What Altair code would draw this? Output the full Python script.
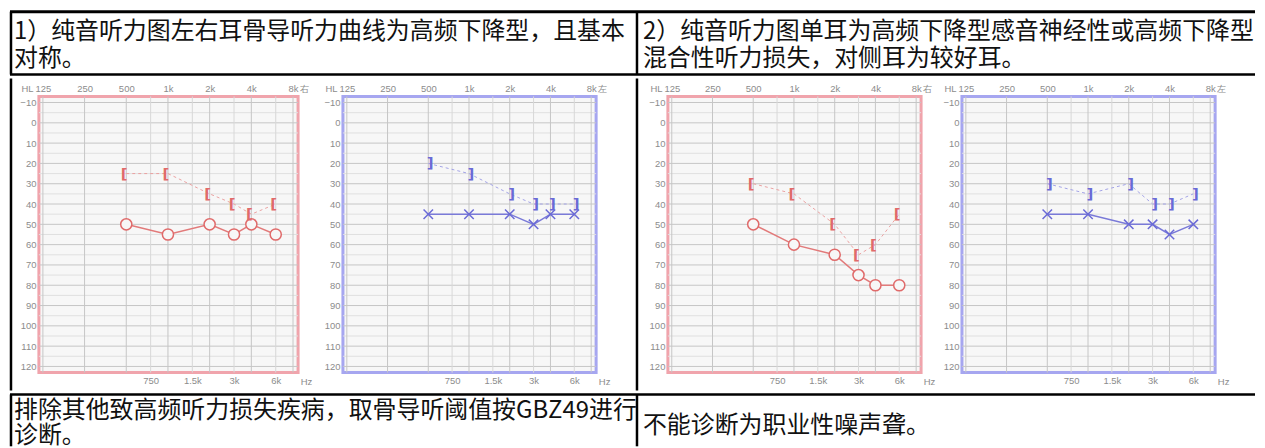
import altair as alt
import pandas as pd

# ---------------- data ----------------
FREQS = [500, 1000, 2000, 3000, 4000, 6000]
P1_AIR = [50, 55, 50, 55, 50, 55]
P1_BONE = [25, 25, 35, 40, 45, 40]
P2_AIR = [45, 45, 45, 50, 45, 45]
P2_BONE = [20, 25, 35, 40, 40, 40]
P3_AIR = [50, 60, 65, 75, 80, 80]
P3_BONE = [30, 35, 50, 65, 60, 45]
P4_AIR = [45, 45, 50, 50, 55, 50]
P4_BONE = [30, 35, 30, 40, 40, 35]

TOP_TICKS = [125, 250, 500, 1000, 2000, 4000, 8000]
BOTTOM_TICKS = [750, 1500, 3000, 6000]
DB_MAJOR = [-10, 0, 10, 20, 30, 40, 50, 60, 70, 80, 90, 100, 110, 120]
DB_MINOR = [-5, 5, 15, 25, 35, 45, 55, 65, 75, 85, 95, 105, 115]

HEADER_LEFT = ["1）纯音听力图左右耳骨导听力曲线为高频下降型，且基本", "对称。"]
HEADER_RIGHT = ["2）纯音听力图单耳为高频下降型感音神经性或高频下降型", "混合性听力损失，对侧耳为较好耳。"]
FOOTER_LEFT = ["排除其他致高频听力损失疾病，取骨导听阈值按GBZ49进行", "诊断。"]
FOOTER_RIGHT = ["不能诊断为职业性噪声聋。"]

# ---------------- styling ----------------
CJK = "Noto Sans CJK SC"
LBL = "datum.value >= 1000 ? (datum.value / 1000) + 'k' : '' + datum.value"
X_PATH = "M-1,-1L1,1M-1,1L1,-1"
AH = 277            # audiogram plot height
TW = 1249           # table width
COLX = 629          # column divider
AX = dict(labelFont="Liberation Sans", labelFontSize=9.5, labelColor="#8c8c8c",
          titleFont="Liberation Sans", titleFontSize=9.5, titleColor="#8c8c8c",
          titleFontWeight="normal", ticks=False, tickSize=0, domain=False, grid=False,
          labelPadding=3, titleAngle=0, titleAlign="center", titleBaseline="middle",
          labelFlush=False, labelOverlap=False)

RED = dict(frame="#f0a4ac", mark="#e06a6a", line="#e27a7a", dash="#eaa2a2",
           bracket="[", side="右", dx=-2)
BLUE = dict(frame="#a6a6f0", mark="#6a6ad6", line="#7a7ad8", dash="#a4a4e6",
            bracket="]", side="左", dx=2)

ONE = pd.DataFrame({"k": [0]})


def audiogram(air, bone, ear, w):
    df = pd.DataFrame({"freq": FREQS, "air": air, "bone": bone})
    xs = alt.Scale(type="log", base=2, domain=[117, 8700], nice=False)
    ys = alt.Scale(domain=[-13, 123], reverse=True, nice=False, zero=False)

    frame = alt.Chart(ONE).mark_rect(fill="#f7f7f7", stroke=ear["frame"], strokeWidth=3).encode(
        x=alt.value(0), x2=alt.value(w), y=alt.value(0), y2=alt.value(AH))
    hmaj = alt.Chart(pd.DataFrame({"d": DB_MAJOR})).mark_rule(color="#c6c6c6", strokeWidth=1).encode(
        y=alt.Y("d:Q", scale=ys, axis=alt.Axis(orient="left", values=DB_MAJOR, title="HL",
                                               titleX=-12, titleY=-8, **AX)))
    hmin = alt.Chart(pd.DataFrame({"d": DB_MINOR})).mark_rule(color="#e0e0e0", strokeWidth=1).encode(
        y=alt.Y("d:Q", scale=ys, axis=None))
    vmaj = alt.Chart(pd.DataFrame({"f": TOP_TICKS})).mark_rule(color="#c6c6c6", strokeWidth=1).encode(
        x=alt.X("f:Q", scale=xs, axis=alt.Axis(orient="top", values=TOP_TICKS, labelExpr=LBL,
                                               title=ear["side"], titleX=w + 6, titleY=-8, **AX)))
    vmin = alt.Chart(pd.DataFrame({"f": BOTTOM_TICKS})).mark_rule(color="#d8d8d8", strokeWidth=1).encode(
        x=alt.X("f:Q", scale=xs, axis=None))

    bone_line = alt.Chart(df).mark_line(color=ear["dash"], strokeWidth=1, strokeDash=[3, 3]).encode(
        x=alt.X("freq:Q", scale=xs, axis=alt.Axis(orient="bottom", values=BOTTOM_TICKS, labelExpr=LBL,
                                                  title="Hz", titleX=w + 8, titleY=9, **AX)),
        y=alt.Y("bone:Q", scale=ys, axis=None))
    air_line = alt.Chart(df).mark_line(color=ear["line"], strokeWidth=1.5).encode(
        x=alt.X("freq:Q", scale=xs, axis=None), y=alt.Y("air:Q", scale=ys, axis=None))
    if ear is RED:
        pts = alt.Chart(df).mark_point(shape="circle", filled=True, fill="#f7f7f7", stroke=ear["mark"],
                                       strokeWidth=1.5, size=125, opacity=1)
    else:
        pts = alt.Chart(df).mark_point(shape=X_PATH, filled=False, color=ear["mark"],
                                       strokeWidth=1.5, size=90, opacity=1)
    pts = pts.encode(x=alt.X("freq:Q", scale=xs, axis=None), y=alt.Y("air:Q", scale=ys, axis=None))
    br = alt.Chart(df).mark_text(text=ear["bracket"], font="DejaVu Sans", fontSize=15, fontWeight="bold",
                                 color=ear["mark"], dx=ear["dx"], baseline="middle").encode(
        x=alt.X("freq:Q", scale=xs, axis=None), y=alt.Y("bone:Q", scale=ys, axis=None))

    return alt.layer(frame, hmaj, hmin, vmaj, vmin, bone_line, air_line, pts, br).resolve_axis(
        x="independent", y="independent").properties(width=w, height=AH)


def spacer(w, line_x=None):
    if line_x is None:
        m = alt.Chart(ONE).mark_rule(opacity=0).encode(x=alt.value(0), y=alt.value(0), y2=alt.value(1))
    else:
        m = alt.Chart(ONE).mark_rule(color="black", strokeWidth=2.5).encode(
            x=alt.value(line_x), y=alt.value(-18), y2=alt.value(AH + 18))
    return m.properties(width=w, height=AH)


def hrule(y, x1=0, x2=TW, sw=2.5):
    return alt.Chart(ONE).mark_rule(color="black", strokeWidth=sw).encode(
        x=alt.value(x1), x2=alt.value(x2), y=alt.value(y))


def vrule(x, y1, y2, sw=2.5):
    return alt.Chart(ONE).mark_rule(color="black", strokeWidth=sw).encode(
        x=alt.value(x), y=alt.value(y1), y2=alt.value(y2))


def txt(s, x, y):
    return alt.Chart(ONE).mark_text(align="left", baseline="middle", font=CJK, fontSize=24,
                                    color="#111").encode(
        x=alt.value(x), y=alt.value(y), text=alt.value(s))


HH = 63
header = alt.layer(
    hrule(0, sw=3), hrule(HH), vrule(1, 0, HH), vrule(COLX, 0, HH),
    txt(HEADER_LEFT[0], 4, 20.5), txt(HEADER_LEFT[1], 4, 47.5),
    txt(HEADER_RIGHT[0], 635, 20.5), txt(HEADER_RIGHT[1], 635, 47.5),
).properties(width=TW, height=HH)

row2 = alt.hconcat(
    spacer(29, 1),
    audiogram(P1_AIR, P1_BONE, RED, 260),
    spacer(45),
    audiogram(P2_AIR, P2_BONE, BLUE, 254),
    spacer(72, 41),
    audiogram(P3_AIR, P3_BONE, RED, 254),
    spacer(41),
    audiogram(P4_AIR, P4_BONE, BLUE, 254),
    spacer(40),
    spacing=0, bounds="flush")

FH = 52
footer = alt.layer(
    hrule(0), vrule(1, 0, FH), vrule(COLX, 0, FH),
    txt(FOOTER_LEFT[0], 4, 17), txt(FOOTER_LEFT[1], 4, 41.5),
    txt(FOOTER_RIGHT[0], 635, 32),
).properties(width=TW, height=FH)

chart = alt.vconcat(header, row2, footer, spacing=0).properties(
    padding={"left": 0, "top": 1, "right": 0, "bottom": 0}
).configure_view(stroke="transparent")

chart.save("out.html", embed_options={"renderer": "svg", "actions": False})
